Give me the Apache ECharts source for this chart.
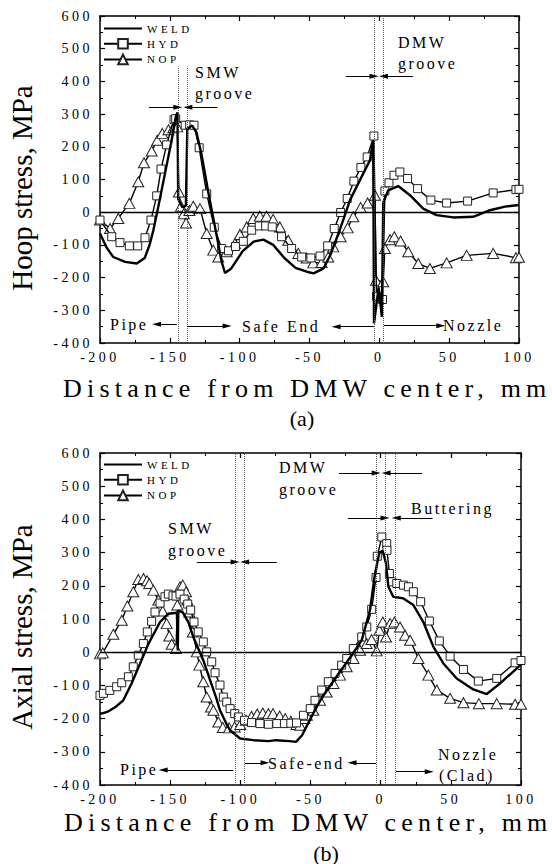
<!DOCTYPE html>
<html>
<head>
<meta charset="utf-8">
<script src="https://cdn.jsdelivr.net/npm/echarts@6.0.0/dist/echarts.min.js"></script>
<style>
html,body{margin:0;padding:0;background:#fff}
#main{width:552px;height:864px}
</style>
</head>
<body>
<div id="main"></div>
<script>
// DATA
const seriesNames=['WELD','HYD','NOP'];
const xRange=[-200,100], xStep=50;
const yRange=[-400,600], yStep=100;

// (a) hoop stress
const hoopWeld=[[-200,-65],[-195,-110],[-190.5,-137],[-182,-152],[-173.7,-157],[-168,-140],[-164.5,-100],[-161.8,-55],[-158.3,16],[-153.5,118],[-148.7,220],[-145.6,295],[-144.5,305],[-144,40],[-141,15],[-138.5,20],[-137.5,255],[-134,265],[-131,245],[-127,170],[-122,50],[-117,-60],[-113,-150],[-110.5,-186],[-106,-172],[-98,-120],[-90,-90],[-83,-84],[-76,-100],[-68,-140],[-60,-170],[-52,-182],[-47,-187],[-40,-172],[-35,-130],[-28,-50],[-21,37],[-13.9,98],[-6.7,159],[-4.4,220],[-3.8,-340],[-0.5,-230],[1.8,-320],[2.8,30],[6.4,67],[13.5,80],[21.9,52],[31.4,11],[41,-9],[52.9,-16],[67.2,-14],[79.2,6],[90,17],[100,22]];
const hoopHyd=[[-200,-24],[-191.6,-75],[-185.7,-93],[-179,-103],[-173,-103],[-167.8,-78],[-163.5,-24],[-159.4,50],[-156.3,132],[-152.3,206],[-147,283],[-145.8,286],[-139,266],[-135.8,267],[-132.7,266],[-129,197],[-123.6,56],[-118.2,-46],[-112.9,-111],[-108,-118],[-103,-105],[-97.4,-89],[-91.4,-55],[-86,-42],[-81.4,-42],[-76.7,-45],[-70,-75],[-62.8,-111],[-55.6,-137],[-49,-140],[-42.5,-134],[-37,-103],[-32.3,-50],[-27.7,-1],[-23,42],[-18.2,95],[-13.2,137],[-8.7,169],[-3.9,233],[-2,-257],[2.3,-267],[4,65],[6.9,90],[10.5,113],[14.7,123],[20.2,103],[27.4,72],[36.9,37],[48.2,28],[63.2,34],[81.5,59],[97.8,69],[100,70]];
const hoopNop=[[-200,-24],[-192.8,-50],[-186.9,-19],[-179,27],[-172.6,93],[-168.5,151],[-163,187],[-159,220],[-155.4,241],[-151,252],[-147.5,258],[-144.7,261],[-143.5,62],[-142,18],[-140,-5],[-138.4,-33],[-136,5],[-133.2,18],[-128.4,11],[-123.6,-65],[-118.9,-116],[-115.3,-137],[-109.3,-121],[-103.4,-96],[-99.8,-68],[-95,-45],[-90.3,-19],[-85.5,-12],[-80.7,-12],[-76,-22],[-71.2,-45],[-65.2,-86],[-58,-126],[-52,-140],[-47.3,-155],[-41.3,-154],[-36.6,-137],[-33,-106],[-27.7,-75],[-22.7,-48],[-18.7,-14],[-13.4,14],[-8.4,28],[-3.1,52],[-2.4,-208],[2.8,-213],[4,-111],[7.6,-84],[10.7,-75],[15.2,-88],[20.7,-121],[27.9,-157],[36.2,-172],[48.2,-155],[62.5,-132],[81.5,-126],[97.8,-139],[100,-138]];

// (b) axial stress
const axialWeld=[[-200,-183],[-198.8,-185],[-194,-178],[-189,-165],[-183.4,-145],[-177.5,-94],[-171.5,-35],[-165.5,25],[-157.2,91],[-151.3,116],[-147,118],[-145.2,118],[-144.6,5],[-144.2,125],[-141,120],[-137,90],[-133.5,46],[-126.4,-24],[-121.5,-85],[-117,-140],[-114.5,-175],[-110,-215],[-107.3,-235],[-100.2,-260],[-90.7,-265],[-80,-268],[-74.6,-265],[-65,-268],[-60.3,-270],[-56,-250],[-50,-200],[-45,-160],[-40,-125],[-30,-65],[-20,-5],[-13.5,36],[-7.6,127],[-4,237],[-0.9,300],[1.5,305],[3.8,267],[5.5,197],[9,167],[16.2,162],[23.3,142],[30.4,91],[37.6,16],[44.7,-34],[54.2,-79],[66,-112],[75.6,-126],[85.1,-94],[98.2,-44],[100,-38]];
const axialHyd=[[-200,-130],[-197.6,-124],[-193,-115],[-188.1,-104],[-184.5,-92],[-179.8,-74],[-176.3,-44],[-172.7,-9],[-169.1,26],[-166.3,61],[-163.2,93],[-160.8,121],[-157.2,148],[-153.7,167],[-151.3,175],[-148,170],[-145.8,169],[-143,175],[-140,160],[-137.5,145],[-135.4,127],[-133,91],[-130,61],[-126.4,31],[-124,1],[-120.4,-29],[-118,-62],[-114.5,-99],[-112.1,-135],[-109.7,-150],[-107.3,-170],[-104,-185],[-101.4,-195],[-97,-205],[-92,-212],[-86,-215],[-80,-217],[-74,-215],[-68.6,-215],[-64,-214],[-60,-213],[-55,-190],[-50.2,-170],[-46.8,-145],[-42,-114],[-37.3,-89],[-32.5,-64],[-27.8,-39],[-24.2,-19],[-19.5,11],[-13.5,46],[-9.9,76],[-6.4,129],[-3.3,225],[-2.4,289],[0.8,347],[4.3,327],[4.5,307],[6.2,237],[7.9,212],[11.5,207],[16.2,202],[19.8,197],[23.3,182],[28.5,152],[34.7,94],[41.8,34],[49.5,-12],[59,-52],[69.6,-87],[82.7,-79],[95.8,-32],[100,-25]];
const axialNop=[[-200,-5],[-198,-2],[-190.5,54],[-184.5,96],[-180.5,139],[-176.3,182],[-172.7,219],[-169,222],[-166.5,215],[-164.9,207],[-162,187],[-158.4,157],[-155.3,124],[-152.5,86],[-150.6,49],[-148.9,24],[-145.8,11],[-144.9,142],[-143,197],[-141,202],[-138.7,182],[-137.8,157],[-136.3,121],[-133.9,61],[-131,1],[-129.2,-39],[-126.4,-89],[-124,-135],[-120.9,-165],[-119.2,-175],[-115.7,-210],[-112.5,-227],[-108,-228],[-104,-225],[-100,-218],[-96,-205],[-92,-193],[-88,-186],[-84,-183],[-80,-185],[-76.7,-185],[-72,-192],[-68,-200],[-64,-208],[-60,-218],[-57.4,-220],[-54.4,-200],[-52.6,-190],[-48,-175],[-43.2,-145],[-38.5,-120],[-33.7,-94],[-29,-69],[-24.2,-44],[-19.4,-19],[-14.7,6],[-10,26],[-6.5,38],[-2.8,4],[-0.9,66],[1.5,91],[3.8,46],[6.7,86],[9.8,91],[13.8,76],[17.4,51],[21,36],[26.9,-19],[34,-69],[40,-114],[49.5,-139],[59,-152],[70,-155],[82.7,-155],[95.8,-157],[100,-157]];

// groove boundaries (x) and how high each dotted line reaches (y)
const hoopGrooves=[-143.9,-137.5,-3.4,2.6];
const hoopGrooveTop=[445,445,600,600];
const axialGrooves=[-103.3,-97.4,-2.8,3.5,10.7];
// arrows: [xFrom, y, xTo]
const hoopArrows=[[-165,321,-144.3],[-116,321,-137.1],[-24,416,-3.8],[24,416,3],[-145,-343,-159.5],[-137.7,-348,-109],[-3.9,-350,-31],[3.3,-347,44]];
const axialArrows=[[-131,272,-103.7],[-74,272,-97],[-29.7,540,-3.2],[29.5,540,3.9],[-23.4,404,3.1],[37,404,11.1],[-105,-355,-155],[-96.7,-333,-82.4],[-3.3,-333,-20.4],[11,-360,34.6]];

const SERIF="'Liberation Serif','Times New Roman',serif";

function markLines(grooves,tops,arrows){
  const d=[];
  grooves.forEach((g,i)=>{
    d.push([{coord:[g,yRange[0]],symbol:'none',lineStyle:{type:'dotted',width:1,color:'#555'}},
            {coord:[g,tops?tops[i]:yRange[1]],symbol:'none'}]);
  });
  arrows.forEach(a=>{
    d.push([{coord:[a[0],a[1]],symbol:'none',lineStyle:{type:'solid',width:1,color:'#000'}},
            {coord:[a[2],a[1]],symbol:'triangle',symbolSize:[5,9]}]);
  });
  d.push([{coord:[xRange[0],0],symbol:'none',lineStyle:{type:'solid',width:1.3,color:'#000'}},
          {coord:[xRange[1],0],symbol:'none'}]);
  return {silent:true,animation:false,label:{show:false},emphasis:{disabled:true},data:d};
}

function makeSeries(gi,weld,hyd,nop,ml){
  return [
    {type:'line',name:'NOP',xAxisIndex:gi*2,yAxisIndex:gi*2,data:nop,symbol:'triangle',symbolSize:[11,10],
     lineStyle:{color:'#000',width:1.4},itemStyle:{color:'#fff',borderColor:'#222',borderWidth:1},emphasis:{disabled:true},z:2},
    {type:'line',name:'HYD',xAxisIndex:gi*2,yAxisIndex:gi*2,data:hyd,symbol:'rect',symbolSize:8,
     lineStyle:{color:'#000',width:1.4},itemStyle:{color:'#fff',borderColor:'#222',borderWidth:1},emphasis:{disabled:true},z:3},
    {type:'line',name:'WELD',xAxisIndex:gi*2,yAxisIndex:gi*2,data:weld,symbol:'none',showSymbol:false,
     lineStyle:{color:'#000',width:2.4},itemStyle:{color:'#000'},emphasis:{disabled:true},z:4,markLine:ml}
  ];
}

const tickStyle={inside:true,length:5,lineStyle:{color:'#000',width:1.2}};
const minorStyle={show:true,splitNumber:2,length:3,lineStyle:{color:'#000',width:1}};
const lineAx={onZero:false,lineStyle:{color:'#000',width:1.5}};
const labelStyle={fontFamily:SERIF,fontSize:14,color:'#000'};

function xAxes(gi){
  return [
    {type:'value',gridIndex:gi,min:xRange[0],max:xRange[1],interval:xStep,position:'bottom',
     axisLine:lineAx,axisTick:tickStyle,minorTick:minorStyle,splitLine:{show:false},
     axisLabel:Object.assign({margin:7},labelStyle)},
    {type:'value',gridIndex:gi,min:xRange[0],max:xRange[1],interval:xStep,position:'top',
     axisLine:lineAx,axisTick:tickStyle,minorTick:minorStyle,splitLine:{show:false},axisLabel:{show:false}}
  ];
}
function yAxes(gi){
  return [
    {type:'value',gridIndex:gi,min:yRange[0],max:yRange[1],interval:yStep,position:'left',
     axisLine:lineAx,axisTick:tickStyle,minorTick:minorStyle,splitLine:{show:false},
     axisLabel:Object.assign({margin:7},labelStyle)},
    {type:'value',gridIndex:gi,min:yRange[0],max:yRange[1],interval:yStep,position:'right',
     axisLine:lineAx,axisTick:tickStyle,minorTick:minorStyle,splitLine:{show:false},axisLabel:{show:false}}
  ];
}

function txt(text,x,y,size,align,rot){
  return {type:'text',x:x,y:y,rotation:rot||0,silent:true,
    style:{text:text,fontFamily:SERIF,fontSize:size,fill:'#000',align:align||'left',verticalAlign:'middle'}};
}

// WELD has no marker, so hide the legend symbol for it
const legendData=seriesNames.map(n=>n==='WELD'?{name:n,itemStyle:{opacity:0}}:{name:n});
const legendBase={orient:'vertical',left:103,padding:0,itemGap:4,itemWidth:38,itemHeight:12,
  data:legendData,selectedMode:false,textStyle:{fontFamily:SERIF,fontSize:11,color:'#000'}};

const option={
  backgroundColor:'#fff',
  animation:false,
  grid:[
    {left:100,top:16,width:419,height:327,outerBoundsMode:'none'},
    {left:100,top:453,width:421,height:332,outerBoundsMode:'none'}
  ],
  legend:[Object.assign({top:23},legendBase),Object.assign({top:459},legendBase)],
  xAxis:xAxes(0).concat(xAxes(1)),
  yAxis:yAxes(0).concat(yAxes(1)),
  series:makeSeries(0,hoopWeld,hoopHyd,hoopNop,markLines(hoopGrooves,hoopGrooveTop,hoopArrows))
    .concat(makeSeries(1,axialWeld,axialHyd,axialNop,markLines(axialGrooves,null,axialArrows))),
  graphic:[
    txt('Hoop stress, MPa',22,188,29,'center',Math.PI/2),
    txt('Axial stress, MPa',22,627,29,'center',Math.PI/2),
    txt('Distance from DMW center, mm',63,388,26),
    txt('Distance from DMW center, mm',64,822,26),
    txt('(a)',302,418,22,'center'),
    txt('(b)',326,853,22,'center'),
    // (a) notes
    txt('SMW',195,72,16),txt('groove',195,93,16),
    txt('DMW',398,42,16),txt('groove',398,63,16),
    txt('Pipe',110,324,16),txt('Safe End',242,326,16),txt('Nozzle',443,325,16),
    // (b) notes
    txt('SMW',168,528,16),txt('groove',168,550,16),
    txt('DMW',279,467,16),txt('groove',279,489,16),
    txt('Buttering',411,508,16),
    txt('Pipe',120,769,16),txt('Safe-end',268,763,16),
    txt('Nozzle',438,754,16),txt('(Clad)',439,775,16)
  ]
};

const chart=echarts.init(document.getElementById('main'),null,{renderer:'svg'});
chart.setOption(option);

// old-plot letter tracking on the svg texts
function track(){
  document.querySelectorAll('#main text').forEach(t=>{
    const s=t.textContent||'';
    const fs=parseFloat(getComputedStyle(t).fontSize)||14;
    let ls=fs<=14?3.5:2.5;
    if(s.indexOf('Distance')===0)ls=5.2;
    else if(s.indexOf('stress')>=0||s==='(a)'||s==='(b)')ls=0;
    t.style.letterSpacing=ls+'px';
  });
}
chart.on('finished',track);
setTimeout(track,50);setTimeout(track,300);
</script>
</body>
</html>
